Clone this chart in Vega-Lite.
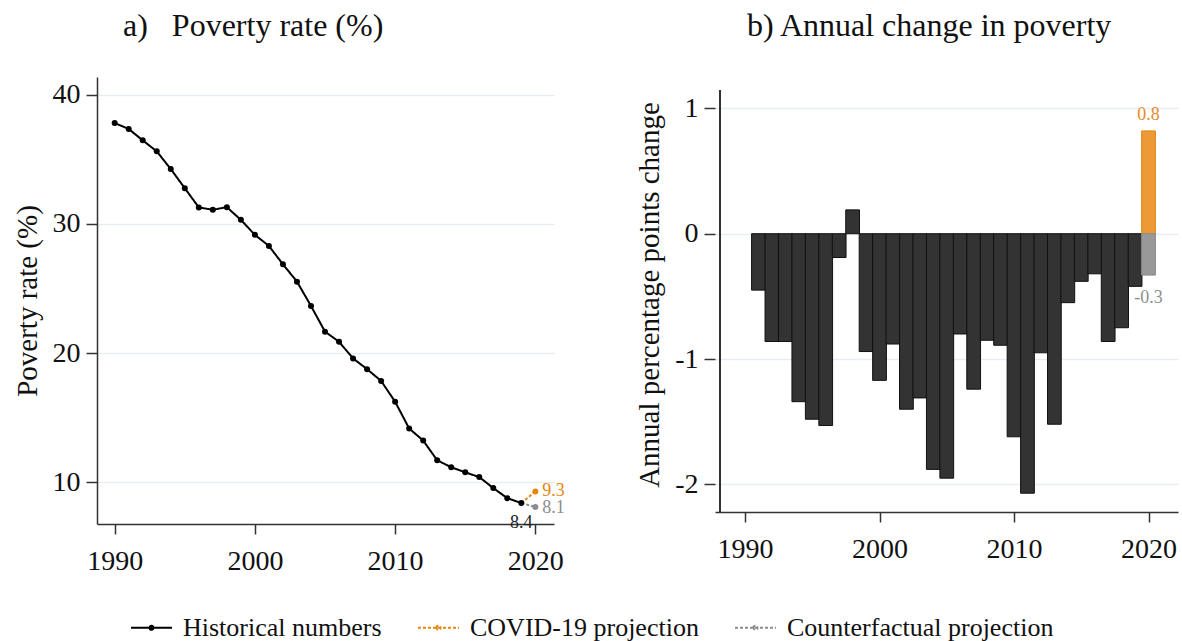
{
  "$schema": "https://vega.github.io/schema/vega-lite/v6.json",
  "padding": {"left": 13, "top": 10, "right": 2, "bottom": 2},
  "autosize": {"type": "pad"},
  "spacing": 70,
  "hconcat": [
    {
      "width": 457,
      "height": 447,
      "title": {"text": "a)\u00a0\u00a0\u00a0Poverty rate (%)", "anchor": "start", "frame": "group", "dx": 26, "offset": 2, "baseline": "bottom"},
      "data": {
        "values": [
          {"year": 2019, "rate": 8.4, "series": "COVID-19 projection"},
          {"year": 2020, "rate": 9.3, "series": "COVID-19 projection"},
          {"year": 2019, "rate": 8.4, "series": "Counterfactual projection"},
          {"year": 2020, "rate": 8.1, "series": "Counterfactual projection"},
          {"year": 1990, "rate": 37.80, "series": "Historical numbers"},
          {"year": 1991, "rate": 37.34, "series": "Historical numbers"},
          {"year": 1992, "rate": 36.46, "series": "Historical numbers"},
          {"year": 1993, "rate": 35.61, "series": "Historical numbers"},
          {"year": 1994, "rate": 34.24, "series": "Historical numbers"},
          {"year": 1995, "rate": 32.76, "series": "Historical numbers"},
          {"year": 1996, "rate": 31.27, "series": "Historical numbers"},
          {"year": 1997, "rate": 31.09, "series": "Historical numbers"},
          {"year": 1998, "rate": 31.29, "series": "Historical numbers"},
          {"year": 1999, "rate": 30.31, "series": "Historical numbers"},
          {"year": 2000, "rate": 29.15, "series": "Historical numbers"},
          {"year": 2001, "rate": 28.29, "series": "Historical numbers"},
          {"year": 2002, "rate": 26.87, "series": "Historical numbers"},
          {"year": 2003, "rate": 25.53, "series": "Historical numbers"},
          {"year": 2004, "rate": 23.65, "series": "Historical numbers"},
          {"year": 2005, "rate": 21.66, "series": "Historical numbers"},
          {"year": 2006, "rate": 20.88, "series": "Historical numbers"},
          {"year": 2007, "rate": 19.59, "series": "Historical numbers"},
          {"year": 2008, "rate": 18.76, "series": "Historical numbers"},
          {"year": 2009, "rate": 17.85, "series": "Historical numbers"},
          {"year": 2010, "rate": 16.24, "series": "Historical numbers"},
          {"year": 2011, "rate": 14.17, "series": "Historical numbers"},
          {"year": 2012, "rate": 13.24, "series": "Historical numbers"},
          {"year": 2013, "rate": 11.71, "series": "Historical numbers"},
          {"year": 2014, "rate": 11.17, "series": "Historical numbers"},
          {"year": 2015, "rate": 10.78, "series": "Historical numbers"},
          {"year": 2016, "rate": 10.41, "series": "Historical numbers"},
          {"year": 2017, "rate": 9.56, "series": "Historical numbers"},
          {"year": 2018, "rate": 8.78, "series": "Historical numbers"},
          {"year": 2019, "rate": 8.4, "series": "Historical numbers"}
        ]
      },
      "encoding": {
        "x": {
          "field": "year", "type": "quantitative", "title": null,
          "scale": {"domain": [1988.74, 2021.33], "nice": false, "zero": false},
          "axis": {"values": [1990, 2000, 2010, 2020], "format": "d"}
        },
        "y": {
          "field": "rate", "type": "quantitative", "title": "Poverty rate (%)",
          "scale": {"domain": [6.78, 41.36], "nice": false, "zero": false},
          "axis": {"values": [10, 20, 30, 40]}
        }
      },
      "layer": [
        {
          "mark": {"type": "line", "strokeWidth": 2},
          "encoding": {
            "color": {
              "field": "series", "type": "nominal",
              "scale": {"domain": ["Historical numbers", "COVID-19 projection", "Counterfactual projection"], "range": ["#000000", "#e8850f", "#8c8c8c"]},
              "legend": {"orient": "none", "legendX": 33, "legendY": 529, "direction": "horizontal", "title": null,
                "symbolType": "M-1,0H1M-0.1,0A0.1,0.1,0,1,1,0.1,0A0.1,0.1,0,1,1,-0.1,0",
                "symbolSize": 1681, "symbolStrokeWidth": 2, "labelFont": "Liberation Serif", "labelFontSize": 26, "labelColor": "#111",
                "labelLimit": 400, "columnPadding": 32, "labelOffset": 10}
            },
            "strokeDash": {
              "field": "series", "type": "nominal",
              "scale": {"domain": ["Historical numbers", "COVID-19 projection", "Counterfactual projection"], "range": [[1, 0], [3, 2], [3, 2]]},
              "legend": {"orient": "none", "legendX": 33, "legendY": 529, "direction": "horizontal", "title": null,
                "symbolType": "M-1,0H1M-0.1,0A0.1,0.1,0,1,1,0.1,0A0.1,0.1,0,1,1,-0.1,0",
                "symbolSize": 1681, "symbolStrokeWidth": 2, "labelFont": "Liberation Serif", "labelFontSize": 26, "labelColor": "#111",
                "labelLimit": 400, "columnPadding": 32, "labelOffset": 10}
            }
          }
        },
        {
          "transform": [{"filter": {"field": "series", "equal": "Historical numbers"}}],
          "mark": {"type": "point", "filled": true, "opacity": 1, "size": 36, "color": "#000000"}
        },
        {
          "transform": [{"filter": "datum.series == 'COVID-19 projection' && datum.year == 2020"}],
          "mark": {"type": "point", "filled": true, "opacity": 1, "size": 36, "color": "#e8850f"}
        },
        {
          "transform": [{"filter": "datum.series == 'Counterfactual projection' && datum.year == 2020"}],
          "mark": {"type": "point", "filled": true, "opacity": 1, "size": 36, "color": "#8c8c8c"}
        },
        {
          "transform": [{"filter": "datum.series == 'COVID-19 projection' && datum.year == 2020"}],
          "mark": {"type": "text", "align": "left", "baseline": "middle", "dx": 7, "fontSize": 18, "font": "Liberation Serif", "color": "#e8850f"},
          "encoding": {"text": {"field": "rate", "format": ".1f"}}
        },
        {
          "transform": [{"filter": "datum.series == 'Counterfactual projection' && datum.year == 2020"}],
          "mark": {"type": "text", "align": "left", "baseline": "middle", "dx": 7, "dy": 1, "fontSize": 18, "font": "Liberation Serif", "color": "#8c8c8c"},
          "encoding": {"text": {"field": "rate", "format": ".1f"}}
        },
        {
          "transform": [{"filter": "datum.series == 'Historical numbers' && datum.year == 2019"}],
          "mark": {"type": "text", "align": "center", "baseline": "top", "dy": 11, "fontSize": 18, "font": "Liberation Serif", "color": "#222222"},
          "encoding": {"text": {"field": "rate", "format": ".1f"}}
        }
      ]
    },
    {
      "width": 463,
      "height": 435,
      "title": {"text": "b) Annual change in poverty", "anchor": "start", "frame": "group", "dx": 32, "offset": 2, "baseline": "bottom"},
      "data": {
        "values": [
          {"year": 1991, "change": -0.45, "series": "Historical numbers"},
          {"year": 1992, "change": -0.86, "series": "Historical numbers"},
          {"year": 1993, "change": -0.86, "series": "Historical numbers"},
          {"year": 1994, "change": -1.34, "series": "Historical numbers"},
          {"year": 1995, "change": -1.48, "series": "Historical numbers"},
          {"year": 1996, "change": -1.53, "series": "Historical numbers"},
          {"year": 1997, "change": -0.19, "series": "Historical numbers"},
          {"year": 1998, "change": 0.19, "series": "Historical numbers"},
          {"year": 1999, "change": -0.94, "series": "Historical numbers"},
          {"year": 2000, "change": -1.17, "series": "Historical numbers"},
          {"year": 2001, "change": -0.88, "series": "Historical numbers"},
          {"year": 2002, "change": -1.4, "series": "Historical numbers"},
          {"year": 2003, "change": -1.31, "series": "Historical numbers"},
          {"year": 2004, "change": -1.88, "series": "Historical numbers"},
          {"year": 2005, "change": -1.95, "series": "Historical numbers"},
          {"year": 2006, "change": -0.8, "series": "Historical numbers"},
          {"year": 2007, "change": -1.24, "series": "Historical numbers"},
          {"year": 2008, "change": -0.85, "series": "Historical numbers"},
          {"year": 2009, "change": -0.89, "series": "Historical numbers"},
          {"year": 2010, "change": -1.62, "series": "Historical numbers"},
          {"year": 2011, "change": -2.07, "series": "Historical numbers"},
          {"year": 2012, "change": -0.95, "series": "Historical numbers"},
          {"year": 2013, "change": -1.52, "series": "Historical numbers"},
          {"year": 2014, "change": -0.55, "series": "Historical numbers"},
          {"year": 2015, "change": -0.38, "series": "Historical numbers"},
          {"year": 2016, "change": -0.32, "series": "Historical numbers"},
          {"year": 2017, "change": -0.86, "series": "Historical numbers"},
          {"year": 2018, "change": -0.75, "series": "Historical numbers"},
          {"year": 2019, "change": -0.42, "series": "Historical numbers"},
          {"year": 2020, "change": 0.82, "series": "COVID-19 projection"},
          {"year": 2020, "change": -0.33, "series": "Counterfactual projection"}
        ]
      },
      "encoding": {
        "x": {
          "field": "year", "type": "quantitative", "title": null,
          "scale": {"domain": [1988.14, 2021.82], "nice": false, "zero": false},
          "axis": {"values": [1990, 2000, 2010, 2020], "format": "d"}
        },
        "y": {
          "field": "change", "type": "quantitative", "title": "Annual percentage points change",
          "scale": {"domain": [-2.22, 1.25], "nice": false, "zero": false},
          "axis": {"values": [-2, -1, 0, 1], "domain": false}
        }
      },
      "layer": [
        {
          "mark": {"type": "rule", "color": "#333333", "strokeWidth": 1.5},
          "encoding": {"x": {"datum": 1988.14}, "y": {"datum": -2.22}, "y2": {"datum": 1.146}}
        },
        {
          "transform": [{"filter": {"field": "series", "equal": "Historical numbers"}}],
          "mark": {"type": "bar", "width": 13.75, "fill": "#333333", "stroke": "#111111", "strokeWidth": 1}
        },
        {
          "transform": [{"filter": {"field": "series", "equal": "COVID-19 projection"}}],
          "mark": {"type": "bar", "width": 13.75, "fill": "#eb9a36", "stroke": "#e0870f", "strokeWidth": 1}
        },
        {
          "transform": [{"filter": {"field": "series", "equal": "Counterfactual projection"}}],
          "mark": {"type": "bar", "width": 13.75, "fill": "#999999", "stroke": "#8a8a8a", "strokeWidth": 1}
        },
        {
          "mark": {"type": "rule", "color": "#000000", "strokeWidth": 2},
          "encoding": {"y": {"datum": 0}}
        },
        {
          "transform": [{"filter": {"field": "series", "equal": "COVID-19 projection"}}],
          "mark": {"type": "text", "align": "center", "baseline": "alphabetic", "dy": -11, "fontSize": 18, "font": "Liberation Serif", "color": "#e8892b"},
          "encoding": {"text": {"field": "change", "format": ".1f"}}
        },
        {
          "transform": [{"filter": {"field": "series", "equal": "Counterfactual projection"}}],
          "mark": {"type": "text", "align": "center", "baseline": "top", "dy": 14, "fontSize": 18, "font": "Liberation Serif", "color": "#8e8e8e"},
          "encoding": {"text": {"field": "change", "format": ".1f"}}
        }
      ]
    }
  ],
  "config": {
    "font": "Liberation Serif",
    "view": {"stroke": null},
    "locale": {"number": {"decimal": ".", "thousands": ",", "grouping": [3], "currency": ["$", ""], "minus": "-"}},
    "title": {"font": "Liberation Serif", "fontSize": 32, "fontWeight": "normal", "color": "#111111"},
    "axis": {
      "labelFont": "Liberation Serif", "labelFontSize": 28, "labelColor": "#111111",
      "titleFont": "Liberation Serif", "titleFontSize": 29, "titleFontWeight": "normal", "titleColor": "#111111",
      "domainColor": "#333333", "domainWidth": 1.5, "tickColor": "#333333", "tickWidth": 1.5, "tickSize": 11,
      "gridColor": "#e6eef2", "gridWidth": 1.5
    },
    "axisX": {"grid": false, "labelPadding": 13, "tickSize": 10},
    "axisY": {"labelPadding": 6, "titlePadding": 10}
  }
}
